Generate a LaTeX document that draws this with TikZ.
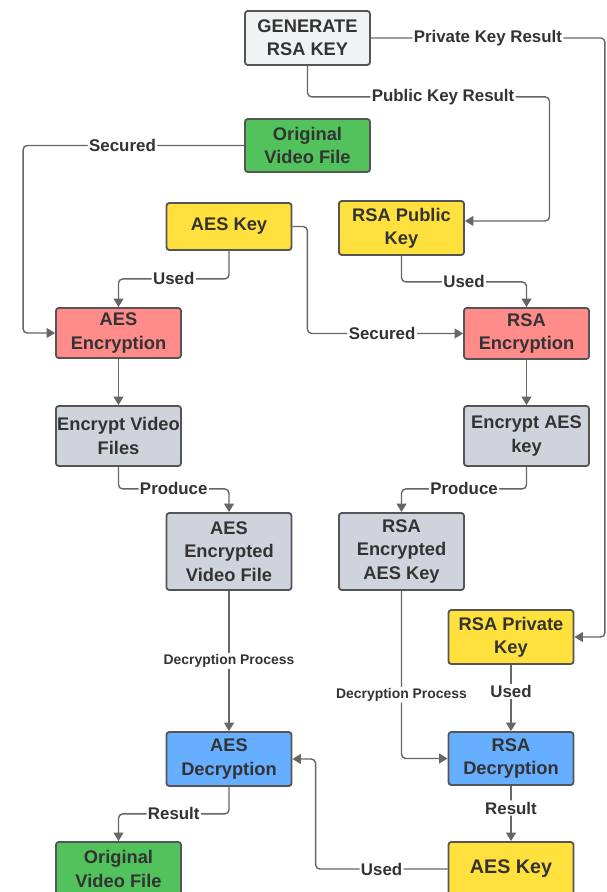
\documentclass[tikz,border=0pt]{standalone}
\usepackage{fontspec}
\setmainfont{Liberation Sans}
\usetikzlibrary{arrows.meta}
\definecolor{boxline}{HTML}{555555}
\definecolor{linkc}{HTML}{666666}
\definecolor{txt}{HTML}{333333}
\definecolor{genfill}{HTML}{F1F2F4}
\definecolor{grnfill}{HTML}{52C35C}
\definecolor{yelfill}{HTML}{FFE03D}
\definecolor{redfill}{HTML}{FF8B8B}
\definecolor{gryfill}{HTML}{CFD4DC}
\definecolor{blufill}{HTML}{66AEFF}
\tikzset{
  box/.style={draw=boxline,line width=1.3pt,rounded corners=2pt,align=center,
    text=txt,font=\bfseries\fontsize{13}{16.5}\selectfont,inner sep=0pt,
    minimum width=3.125cm},
  link/.style={draw=linkc,line width=1pt,rounded corners=3pt,
    -{Triangle[width=7pt,length=6pt]}},
  lbl/.style={fill=white,inner sep=1pt,text=txt,
    font=\bfseries\fontsize{12}{14}\selectfont},
  smalllbl/.style={lbl,font=\bfseries\fontsize{9.9}{11}\selectfont}
}
\begin{document}
\begin{tikzpicture}[x=0.025cm,y=-0.025cm]
	\useasboundingbox (0,0) rectangle (606,892);
	\clip (0,0) rectangle (606,892);

	% key generation and inputs
	\node[box,fill=genfill,minimum height=1.35cm] (gen) at (307.5,38) {GENERATE\\RSA KEY};
	\node[box,fill=grnfill,minimum height=1.325cm] (vidtop) at (307.5,145.5) {Original\\Video File};
	\node[box,fill=yelfill,minimum height=1.175cm] (aeskey) at (229,226.5) {AES Key};
	\node[box,fill=yelfill,minimum height=1.35cm] (rsapub) at (401.5,228) {RSA Public\\Key};

	% encryption
	\node[box,fill=redfill,minimum height=1.25cm] (aesenc) at (118.5,333) {AES\\Encryption};
	\node[box,fill=redfill,minimum height=1.275cm] (rsaenc) at (526.5,333.5) {RSA\\Encryption};
	\node[box,fill=gryfill,minimum height=1.5cm] (encvid) at (118.5,436) {Encrypt Video\\Files};
	\node[box,fill=gryfill,minimum height=1.5cm] (encaes) at (526.5,436) {Encrypt AES\\key};
	\node[box,fill=gryfill,minimum height=1.925cm] (aesvid) at (229,551.5) {AES\\Encrypted\\Video File};
	\node[box,fill=gryfill,minimum height=1.925cm] (rsaaes) at (401.5,551.5) {RSA\\Encrypted\\AES Key};

	% decryption
	\node[box,fill=yelfill,minimum height=1.35cm] (rsapriv) at (511,637) {RSA Private\\Key};
	\node[box,fill=blufill,minimum height=1.35cm] (aesdec) at (229,759) {AES\\Decryption};
	\node[box,fill=blufill,minimum height=1.325cm] (rsadec) at (511,758.5) {RSA\\Decryption};
	\node[box,fill=grnfill,minimum height=1.35cm] (vidbot) at (118.5,869) {Original\\Video File};
	\node[box,fill=yelfill,minimum height=1.35cm,font=\bfseries\fontsize{14}{17}\selectfont] (aeskey2) at (511,869) {AES Key};

	\draw[link] (gen.east) -- node[lbl]{Private Key Result} ++(234,0) |- (rsapriv.east);
	\draw[link] (gen.south) -- ++(0,31) -- node[lbl,pos=0.56]{Public Key Result} ++(242,0) |- ([yshift=5pt]rsapub.east);
	\draw[link] (vidtop.west) -- node[lbl,pos=0.55]{Secured} ++(-221,0) |- (aesenc.west);
	\draw[link] (aeskey.south) -- ++(0,28) -| node[lbl,pos=0.25]{Used} (aesenc.north);
	\draw[link] (aeskey.east) -- ++(15,0) |- node[lbl,pos=0.74]{Secured} (rsaenc.west);
	\draw[link] (rsapub.south) -- ++(0,26) -| node[lbl,pos=0.25]{Used} (rsaenc.north);

	\draw[link] (aesenc) -- (encvid);
	\draw[link] (rsaenc) -- (encaes);
	\draw[link] (encvid.south) -- ++(0,22) -| node[lbl,pos=0.25]{Produce} (aesvid.north);
	\draw[link] (encaes.south) -- ++(0,22) -| node[lbl,pos=0.25]{Produce} (rsaaes.north);

	\draw[link] (aesvid) -- node[smalllbl,pos=0.5]{Decryption Process} (aesdec);
	\draw[link] (rsaaes.south) |- node[smalllbl,pos=0.31]{Decryption Process} (rsadec.west);
	\draw[link] (rsapriv) -- node[lbl,pos=0.4]{Used} (rsadec);
	\draw[link] (rsadec) -- node[lbl,pos=0.4]{Result} (aeskey2);
	\draw[link] (aeskey2.west) -- node[lbl]{Used} ++(-132,0) |- (aesdec.east);
	\draw[link] (aesdec.south) -- ++(0,27) -| node[lbl,pos=0.25]{Result} (vidbot.north);
\end{tikzpicture}
\end{document}
